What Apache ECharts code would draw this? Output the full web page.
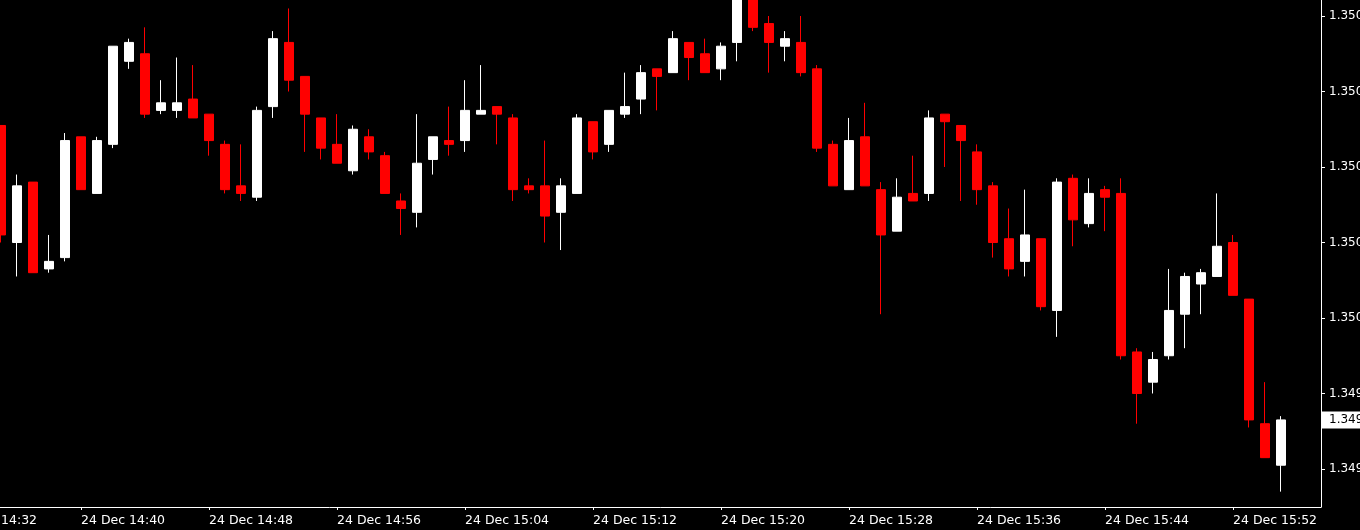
<!DOCTYPE html>
<html>
<head>
<meta charset="utf-8">
<script src="https://cdn.jsdelivr.net/npm/echarts@6/dist/echarts.min.js"></script>
<style>
  html, body { margin: 0; padding: 0; background: #000; }
  #chart { width: 1360px; height: 530px; }
</style>
</head>
<body>
<div id="chart"></div>
<script>
// one candle per minute, 24 Dec 14:35 .. 15:55
const day = '24 Dec'
const firstMinute = '14:32'   // first slot on the axis (three empty slots before the first candle)
const leadSlots = 3
const trailSlots = 2

const openP = [1.35051, 1.35020, 1.35036, 1.35013, 1.35016, 1.35048, 1.35033, 1.35046, 1.35068, 1.35070,
  1.35055, 1.35055, 1.35058, 1.35054, 1.35046, 1.35035, 1.35032, 1.35056, 1.35073, 1.35064,
  1.35053, 1.35046, 1.35039, 1.35048, 1.35043, 1.35031, 1.35028, 1.35042, 1.35047, 1.35047,
  1.35054, 1.35056, 1.35053, 1.35035, 1.35035, 1.35028, 1.35033, 1.35052, 1.35046, 1.35054,
  1.35058, 1.35066, 1.35065, 1.35073, 1.35070, 1.35066, 1.35073, 1.35086, 1.35078, 1.35072,
  1.35073, 1.35066, 1.35046, 1.35034, 1.35048, 1.35034, 1.35023, 1.35033, 1.35033, 1.35054,
  1.35051, 1.35044, 1.35035, 1.35021, 1.35015, 1.35021, 1.35002, 1.35037, 1.35025, 1.35034,
  1.35033, 1.34991, 1.34983, 1.34990, 1.35001, 1.35009, 1.35011, 1.35020, 1.35005, 1.34972,
  1.34961]

const closeP = [1.35022, 1.35035, 1.35012, 1.35015, 1.35047, 1.35034, 1.35047, 1.35072, 1.35073, 1.35054,
  1.35057, 1.35057, 1.35053, 1.35047, 1.35034, 1.35033, 1.35055, 1.35074, 1.35063, 1.35054,
  1.35045, 1.35041, 1.35050, 1.35044, 1.35033, 1.35029, 1.35041, 1.35048, 1.35046, 1.35055,
  1.35055, 1.35054, 1.35034, 1.35034, 1.35027, 1.35035, 1.35053, 1.35044, 1.35055, 1.35056,
  1.35065, 1.35064, 1.35074, 1.35069, 1.35065, 1.35072, 1.35088, 1.35077, 1.35073, 1.35074,
  1.35065, 1.35045, 1.35035, 1.35047, 1.35035, 1.35022, 1.35032, 1.35031, 1.35053, 1.35052,
  1.35047, 1.35034, 1.35020, 1.35013, 1.35022, 1.35003, 1.35036, 1.35026, 1.35033, 1.35032,
  1.34990, 1.34980, 1.34989, 1.35002, 1.35011, 1.35012, 1.35019, 1.35006, 1.34973, 1.34963,
  1.34973]

const lowP = [1.35020, 1.35011, 1.35012, 1.35012, 1.35015, 1.35034, 1.35033, 1.35045, 1.35066, 1.35053,
  1.35054, 1.35053, 1.35053, 1.35043, 1.35033, 1.35031, 1.35031, 1.35053, 1.35060, 1.35044,
  1.35042, 1.35041, 1.35038, 1.35042, 1.35033, 1.35022, 1.35024, 1.35038, 1.35043, 1.35044,
  1.35054, 1.35046, 1.35031, 1.35033, 1.35020, 1.35018, 1.35033, 1.35042, 1.35044, 1.35053,
  1.35054, 1.35055, 1.35065, 1.35063, 1.35065, 1.35063, 1.35068, 1.35076, 1.35065, 1.35068,
  1.35064, 1.35044, 1.35035, 1.35034, 1.35035, 1.35001, 1.35023, 1.35031, 1.35031, 1.35040,
  1.35031, 1.35030, 1.35016, 1.35011, 1.35011, 1.35002, 1.34995, 1.35019, 1.35024, 1.35023,
  1.34989, 1.34972, 1.34980, 1.34989, 1.34992, 1.35001, 1.35011, 1.35006, 1.34971, 1.34963,
  1.34954]

const highP = [1.35051, 1.35038, 1.35036, 1.35022, 1.35049, 1.35048, 1.35048, 1.35072, 1.35074, 1.35077,
  1.35063, 1.35069, 1.35067, 1.35054, 1.35047, 1.35046, 1.35056, 1.35076, 1.35082, 1.35064,
  1.35053, 1.35054, 1.35051, 1.35050, 1.35044, 1.35033, 1.35054, 1.35048, 1.35056, 1.35063,
  1.35067, 1.35056, 1.35054, 1.35037, 1.35047, 1.35037, 1.35054, 1.35052, 1.35055, 1.35065,
  1.35067, 1.35066, 1.35076, 1.35073, 1.35074, 1.35073, 1.35090, 1.35088, 1.35080, 1.35076,
  1.35080, 1.35067, 1.35047, 1.35053, 1.35057, 1.35036, 1.35037, 1.35043, 1.35055, 1.35054,
  1.35051, 1.35046, 1.35036, 1.35029, 1.35034, 1.35021, 1.35037, 1.35038, 1.35037, 1.35035,
  1.35037, 1.34992, 1.34991, 1.35013, 1.35012, 1.35013, 1.35033, 1.35022, 1.35005, 1.34983,
  1.34974]

// minute labels for every slot on the axis
const slotCount = leadSlots + openP.length + trailSlots
const [h0, m0] = firstMinute.split(':').map(Number)
const categories = []
for (let i = 0; i < slotCount; i++) {
  const t = h0 * 60 + m0 + i
  const hh = String(Math.floor(t / 60)).padStart(2, '0')
  const mm = String(t % 60).padStart(2, '0')
  categories.push(`${day} ${hh}:${mm}`)
}

const candles = []
for (let i = 0; i < leadSlots; i++) candles.push('-')
openP.forEach((o, i) => candles.push([o, closeP[i], lowP[i], highP[i]]))
for (let i = 0; i < trailSlots; i++) candles.push('-')

const lastPrice = closeP[closeP.length - 1]

const chart = echarts.init(document.getElementById('chart'))
const font = 'DejaVu Sans'

chart.setOption({
  animation: false,
  backgroundColor: '#000000',
  grid: { left: -55, right: 39, top: 0, bottom: 23, containLabel: false, outerBoundsMode: 'none' },
  xAxis: {
    type: 'category',
    data: categories,
    boundaryGap: true,
    axisLine: { lineStyle: { color: '#FFFFFF', width: 1 } },
    axisTick: { show: true, alignWithLabel: true, interval: 7, length: 3, lineStyle: { color: '#FFFFFF' } },
    axisLabel: {
      interval: 7,
      align: 'left',
      color: '#FFFFFF',
      fontFamily: font,
      fontSize: 12.5,
      margin: 7
    },
    splitLine: { show: false }
  },
  yAxis: {
    type: 'value',
    position: 'right',
    scale: true,
    min: 1.3494993,
    max: 1.3508424,
    splitNumber: 7,
    minInterval: 0.0002,
    maxInterval: 0.0002,
    axisLine: { show: true, lineStyle: { color: '#FFFFFF', width: 1 } },
    axisTick: { show: true, length: 4, lineStyle: { color: '#FFFFFF' } },
    axisLabel: {
      color: '#FFFFFF',
      fontFamily: font,
      fontSize: 12,
      margin: 8,
      showMinLabel: false,
      showMaxLabel: false,
      formatter: v => v.toFixed(5)
    },
    splitLine: { show: false }
  },
  series: [{
    type: 'candlestick',
    data: candles,
    barWidth: 10,
    clip: true,
    itemStyle: {
      color: '#FFFFFF',
      color0: '#FF0000',
      borderColor: '#FFFFFF',
      borderColor0: '#FF0000',
      borderWidth: 1
    },
    markLine: {
      silent: true,
      symbol: 'none',
      precision: 5,
      lineStyle: { color: 'rgba(0,0,0,0)', width: 1, type: 'solid' },
      label: {
        show: true,
        position: 'end',
        distance: 1,
        formatter: () => lastPrice.toFixed(5),
        backgroundColor: '#FFFFFF',
        color: '#000000',
        fontFamily: font,
        fontSize: 12,
        lineHeight: 13,
        padding: [2, 10, 2, 7]
      },
      data: [{ yAxis: lastPrice }]
    }
  }]
})
</script>
</body>
</html>
